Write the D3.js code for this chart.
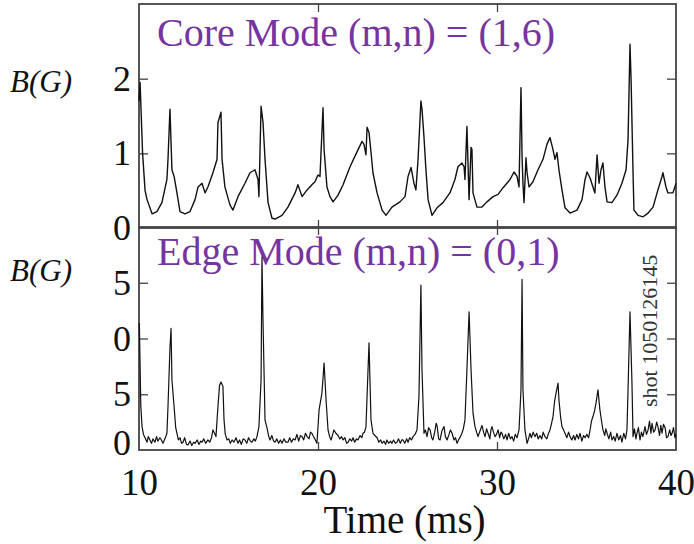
<!DOCTYPE html>
<html><head><meta charset="utf-8">
<script src="https://cdn.jsdelivr.net/npm/d3@7"></script>
<style>body{margin:0;background:#fff}svg{display:block}</style>
</head><body>
<svg id="c" width="694" height="544"></svg>
<script>
// ---- data ----
const timeTicks = [10, 20, 30, 40];
const coreTicks = [0, 1, 2];
const edgeTicks = [0, 5, 10, 15];
const coreTitle = "Core Mode (m,n) = (1,6)";
const edgeTitle = "Edge Mode (m,n) = (0,1)";
const yLabel = "B(G)";
const xLabel = "Time (ms)";
const shotLabel = "shot 1050126145";

const coreTime = [10.0,10.06,10.2,10.34,10.45,10.73,11.0,11.28,11.56,11.62,11.73,11.84,11.96,12.12,12.29,12.57,12.85,13.13,13.30,13.52,13.69,13.85,14.13,14.36,14.41,14.58,14.64,14.80,15.08,15.25,15.53,15.92,16.20,16.48,16.65,16.70,16.82,16.93,17.04,17.21,17.43,17.60,17.99,18.32,18.72,18.88,19.11,19.39,19.66,19.83,20.0,20.11,20.28,20.34,20.50,20.67,20.84,21.12,21.40,21.79,22.18,22.46,22.57,22.68,22.74,22.85,23.02,23.07,23.30,23.58,23.80,24.13,24.58,24.86,25.03,25.20,25.36,25.47,25.59,25.75,25.81,25.92,26.03,26.15,26.37,26.65,26.98,27.37,27.65,27.82,28.04,28.16,28.21,28.32,28.44,28.55,28.60,28.66,28.88,29.16,29.44,29.78,30.06,30.34,30.73,30.95,31.12,31.23,31.34,31.40,31.45,31.51,31.62,31.68,31.79,32.01,32.29,32.57,32.79,32.96,33.13,33.24,33.35,33.46,33.63,33.80,34.08,34.47,34.75,34.92,35.03,35.20,35.36,35.47,35.59,35.70,35.81,35.92,36.03,36.15,36.42,36.70,36.98,37.21,37.32,37.43,37.49,37.60,37.65,37.88,38.16,38.44,38.72,38.99,39.22,39.27,39.44,39.55,39.83,40.0];
const coreB = [1.7,1.95,1.0,0.5,0.38,0.19,0.22,0.34,0.65,0.92,1.59,0.78,0.69,0.47,0.22,0.19,0.22,0.38,0.55,0.60,0.47,0.55,0.74,0.92,1.41,1.55,0.92,0.55,0.31,0.24,0.42,0.60,0.74,0.78,0.65,0.42,1.63,1.41,0.92,0.34,0.13,0.12,0.17,0.28,0.47,0.58,0.42,0.51,0.58,0.62,0.71,0.69,1.61,1.05,0.55,0.42,0.35,0.44,0.58,0.82,1.02,1.16,1.12,0.98,1.35,1.28,0.87,0.74,0.47,0.24,0.17,0.28,0.35,0.42,0.69,0.81,0.60,0.51,0.92,1.70,1.59,1.22,0.78,0.38,0.17,0.27,0.34,0.47,0.65,0.82,0.87,0.82,0.65,1.36,0.38,1.08,1.05,0.47,0.28,0.28,0.35,0.42,0.45,0.54,0.65,0.75,0.69,0.55,1.88,0.96,0.60,0.34,0.94,0.74,0.55,0.62,0.78,0.92,1.12,1.21,1.05,0.92,1.01,0.78,0.51,0.27,0.20,0.24,0.38,0.65,0.75,0.67,0.55,0.47,0.98,0.60,0.78,0.87,0.55,0.35,0.34,0.44,0.60,0.78,1.18,2.46,1.99,0.74,0.24,0.17,0.15,0.20,0.28,0.51,0.69,0.74,0.55,0.47,0.47,0.6];

const edgeTime = [
10.02,10.10,10.17,10.25,10.34,10.45,10.52,10.61,10.70,10.78,10.89,10.98,11.05,11.17,11.25,11.34,11.45,11.56,11.62,11.73,11.79,11.84,11.96,12.05,12.12,12.20,12.29,12.38,12.46,12.55,12.65,12.74,12.85,12.95,13.05,13.13,13.25,13.35,13.45,13.52,13.62,13.72,13.85,13.95,14.05,14.13,14.22,14.30,14.41,14.50,14.58,14.69,14.75,14.82,14.92,15.02,15.10,15.20,15.30,15.42,15.53,15.62,15.72,15.82,15.92,16.02,16.12,16.22,16.31,16.42,16.50,16.59,16.70,16.82,16.87,16.93,17.04,17.10,17.15,17.25,17.32,17.42,17.52,17.60,17.70,17.80,17.90,17.99,18.10,18.20,18.32,18.42,18.52,18.62,18.72,18.82,18.92,19.02,19.11,19.20,19.30,19.39,19.50,19.58,19.66,19.72,19.82,19.94,
20.06,20.22,20.34,20.45,20.56,20.65,20.73,20.82,20.89,21.00,21.12,21.22,21.32,21.40,21.50,21.60,21.68,21.78,21.88,21.96,22.05,22.15,22.23,22.35,22.45,22.51,22.60,22.68,22.74,22.85,22.96,23.07,23.18,23.30,23.40,23.50,23.58,23.68,23.78,23.85,23.95,24.05,24.13,24.22,24.32,24.41,24.50,24.60,24.68,24.75,24.85,24.95,25.03,25.12,25.22,25.31,25.42,25.53,25.64,25.75,25.81,25.92,26.00,26.09,26.18,26.26,26.35,26.42,26.52,26.60,26.65,26.74,26.82,26.92,27.04,27.12,27.21,27.32,27.40,27.49,27.60,27.68,27.77,27.88,27.96,28.04,28.12,28.21,28.32,28.44,28.55,28.66,28.77,28.86,28.94,29.05,29.16,29.25,29.33,29.42,29.50,29.60,29.66,29.72,29.80,29.89,29.97,
30.06,30.15,30.22,30.28,30.38,30.48,30.56,30.65,30.75,30.84,30.93,31.02,31.12,31.23,31.34,31.40,31.45,31.56,31.68,31.76,31.84,31.92,32.02,32.12,32.22,32.30,32.40,32.50,32.58,32.68,32.78,32.88,32.96,33.05,33.13,33.22,33.30,33.41,33.46,33.55,33.63,33.72,33.80,33.90,34.00,34.08,34.18,34.28,34.36,34.46,34.55,34.64,34.74,34.84,34.92,35.02,35.12,35.20,35.28,35.36,35.45,35.53,35.64,35.75,35.84,35.92,36.02,36.08,36.15,36.25,36.35,36.42,36.52,36.60,36.70,36.80,36.90,36.98,37.08,37.18,37.26,37.32,37.43,37.54,37.60,37.68,37.76,37.82,37.90,37.99,38.07,38.15,38.27,38.35,38.44,38.52,38.60,38.66,38.75,38.83,38.92,38.99,39.08,39.15,39.22,39.30,39.39,39.47,39.55,39.65,39.72,39.78,39.86,39.94,40.0];
const edgeB = [
11.4,4.0,2.1,1.4,1.1,0.7,1.2,0.9,0.6,1.0,0.7,1.2,0.8,1.1,0.9,0.6,1.0,1.5,3.9,9.2,10.9,6.3,3.9,2.0,1.5,0.9,1.1,0.6,0.7,1.1,0.5,0.45,0.8,0.4,0.7,0.6,0.9,0.5,0.8,0.7,1.0,0.6,0.9,0.7,1.1,1.8,1.5,1.2,3.9,5.8,6.1,5.7,2.7,1.4,0.9,1.0,0.6,0.9,0.7,1.1,0.6,0.9,0.5,1.0,0.9,0.6,1.1,0.8,0.7,1.0,0.8,1.2,2.1,6.3,17.3,11.4,2.7,2.3,2.0,1.2,0.9,1.3,0.8,0.7,1.0,0.6,0.9,0.6,1.0,0.7,0.7,1.1,0.7,1.0,0.9,1.4,0.8,1.3,1.2,0.9,1.5,1.2,1.0,1.6,1.5,1.3,1.0,0.6,
3.6,5.1,7.8,4.5,1.8,1.2,0.9,1.4,1.8,1.5,1.3,1.0,1.2,0.9,1.1,0.6,0.7,1.0,0.8,1.1,0.7,1.0,0.9,1.3,1.1,1.5,1.6,2.1,4.8,9.6,2.7,1.5,1.3,1.1,0.7,0.9,0.6,0.8,0.5,0.9,0.6,0.8,0.6,0.9,0.6,0.7,1.0,0.6,0.9,0.9,0.6,1.0,0.7,1.1,0.9,1.2,1.4,1.8,4.8,14.8,7.2,1.5,1.8,1.2,2.0,1.8,1.1,0.9,1.6,2.4,2.2,1.0,0.9,1.7,2.1,1.2,0.9,1.4,1.8,1.5,0.9,1.1,0.6,1.0,1.2,1.5,1.9,2.7,7.2,12.4,7.2,3.3,2.1,1.6,1.2,1.7,2.2,1.6,1.2,1.9,1.5,1.0,1.8,2.1,1.6,1.2,1.4,
1.8,1.1,1.6,1.5,1.0,1.4,0.9,1.5,1.0,1.2,0.8,1.4,1.1,1.8,5.4,15.3,5.4,1.8,0.6,1.0,1.5,1.1,1.6,1.2,1.5,1.0,1.3,1.0,1.6,1.2,1.0,1.5,1.8,2.4,3.0,4.4,5.1,6.0,4.5,3.0,2.1,1.8,1.5,1.1,1.6,1.2,0.9,1.3,0.9,1.4,1.0,1.5,0.8,1.3,1.1,1.4,1.1,1.8,2.6,3.0,3.5,4.2,5.4,3.6,2.6,1.8,1.3,1.9,1.5,1.0,1.6,0.9,1.2,0.8,1.5,0.9,1.3,0.7,1.5,1.0,1.8,5.4,12.4,6.0,1.2,1.9,1.0,1.5,2.0,0.9,1.6,1.2,2.1,1.4,1.8,2.6,1.5,2.4,1.6,1.8,2.5,2.1,1.3,2.2,1.5,2.3,2.0,1.1,1.2,1.8,1.3,1.5,2.0,1.1,1.4];

// ---- layout ----
const svg = d3.select("#c");
const X0 = 139, X1 = 676;
const topP = {y0: 228, y1: 4};
const botP = {y0: 450, y1: 227};
const x = d3.scaleLinear().domain([10, 40]).range([X0, X1]);
const yCore = d3.scaleLinear().domain([0, 3]).range([topP.y0, topP.y1]);
const yEdge = d3.scaleLinear().domain([0, 20]).range([botP.y0, botP.y1]);
const serif = "'Liberation Serif','Times New Roman',serif";
const purple = "#7534a0";
const frame = "#444";

function panel(y, ticks, fmt, zeroShift) {
  const g = svg.append("g");
  const inner = ticks.filter(d => d !== 0);
  g.append("g").attr("transform", `translate(${X0},0)`)
    .call(d3.axisRight(y).tickValues(inner).tickSize(9).tickFormat(""));
  g.append("g").attr("transform", `translate(${X1},0)`)
    .call(d3.axisLeft(y).tickValues(inner).tickSize(9).tickFormat(""));
  g.append("g").attr("transform", `translate(0,${y.range()[1]})`)
    .call(d3.axisBottom(x).tickValues([20, 30]).tickSize(8).tickFormat(""));
  g.append("g").attr("transform", `translate(0,${y.range()[0]})`)
    .call(d3.axisTop(x).tickValues([20, 30]).tickSize(8).tickFormat(""));
  g.selectAll(".domain").remove();
  g.selectAll(".tick line").attr("stroke", frame).attr("stroke-width", 1.3);
  const gl = g.append("g").attr("transform", `translate(${X0},0)`)
    .call(d3.axisLeft(y).tickValues(ticks).tickSize(0).tickPadding(8).tickFormat(fmt));
  gl.select(".domain").remove();
  gl.selectAll("text").attr("font-family", serif).attr("font-size", 36).attr("fill", "#111");
  gl.selectAll(".tick").filter(d => d === 0).select("text").attr("y", zeroShift);
  g.append("rect").attr("x", X0).attr("y", y.range()[1]).attr("width", X1 - X0)
    .attr("height", y.range()[0] - y.range()[1]).attr("fill", "none").attr("stroke", frame).attr("stroke-width", 1.8);
  return g;
}

panel(yCore, coreTicks, d => String(d), 0);
panel(yEdge, edgeTicks, d => String(d % 10), -7);

// titles
svg.append("text").attr("x", 157).attr("y", 46).attr("font-family", serif).attr("font-size", 40)
  .attr("fill", purple).text(coreTitle);
svg.append("text").attr("x", 157).attr("y", 265).attr("font-family", serif).attr("font-size", 40)
  .attr("fill", purple).text(edgeTitle);

// lines
const coreData = coreTime.map((t, i) => [t, coreB[i]]);
const edgeData = edgeTime.map((t, i) => [t, edgeB[i]]);
svg.append("path").datum(coreData).attr("fill", "none").attr("stroke", "#111").attr("stroke-width", 1.4)
  .attr("stroke-linejoin", "round")
  .attr("d", d3.line().x(d => x(d[0])).y(d => yCore(d[1])));
svg.append("path").datum(edgeData).attr("fill", "none").attr("stroke", "#111").attr("stroke-width", 1.2)
  .attr("stroke-linejoin", "round")
  .attr("d", d3.line().x(d => x(d[0])).y(d => yEdge(d[1])));

// x axis labels
const gx = svg.append("g").attr("transform", `translate(0,${botP.y0})`)
  .call(d3.axisBottom(x).tickValues(timeTicks).tickSize(0).tickPadding(19).tickFormat(d => String(d)));
gx.select(".domain").remove();
gx.selectAll("text").attr("font-family", serif).attr("font-size", 37).attr("fill", "#111");

svg.append("text").attr("x", (X0 + X1) / 2 - 3).attr("y", 533).attr("text-anchor", "middle")
  .attr("font-family", serif).attr("font-size", 39).attr("fill", "#111").text(xLabel);

// y labels
[92, 281].forEach(yy => {
  svg.append("text").attr("x", 10).attr("y", yy).attr("font-family", serif).attr("font-style", "italic")
    .attr("font-size", 31).attr("fill", "#111").text(yLabel);
});

// shot label
svg.append("text").attr("transform", "translate(657,407) rotate(-90)")
  .attr("font-family", serif).attr("font-size", 22).attr("fill", "#333").text(shotLabel);
</script>
</body></html>
